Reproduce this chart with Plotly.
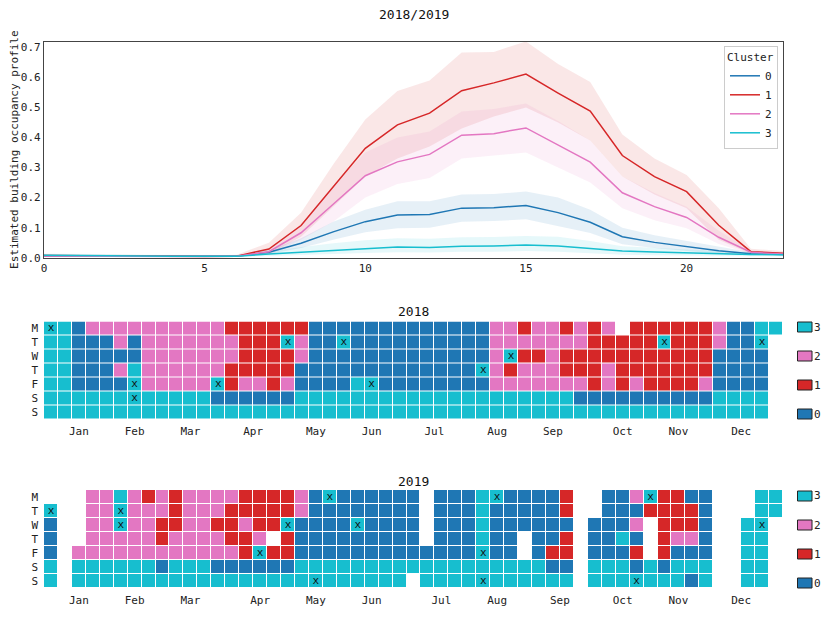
import datetime as dt
import plotly.graph_objects as go

# ---------------- data: hourly occupancy profiles (mean and band) ----------------
hours = list(range(24))

c0_mean = [0.006, 0.006, 0.005, 0.005, 0.004, 0.004, 0.005, 0.018, 0.048, 0.086, 0.120, 0.142,
           0.144, 0.165, 0.166, 0.174, 0.150, 0.118, 0.070, 0.051, 0.037, 0.023, 0.013, 0.011]
c0_low = [0.003, 0.003, 0.003, 0.003, 0.002, 0.002, 0.003, 0.012, 0.032, 0.060, 0.085, 0.098,
          0.100, 0.120, 0.122, 0.128, 0.105, 0.082, 0.045, 0.032, 0.022, 0.013, 0.008, 0.007]
c0_high = [0.010, 0.010, 0.008, 0.008, 0.007, 0.007, 0.008, 0.025, 0.065, 0.120, 0.160, 0.188,
           0.188, 0.210, 0.212, 0.220, 0.200, 0.160, 0.100, 0.075, 0.056, 0.036, 0.018, 0.016]

c1_mean = [0.007, 0.006, 0.005, 0.004, 0.003, 0.004, 0.005, 0.029, 0.107, 0.236, 0.364, 0.442,
           0.481, 0.556, 0.582, 0.611, 0.548, 0.488, 0.340, 0.270, 0.220, 0.108, 0.020, 0.015]
c1_low = [0.003, 0.003, 0.002, 0.002, 0.001, 0.002, 0.002, 0.012, 0.070, 0.170, 0.270, 0.330,
          0.370, 0.430, 0.470, 0.500, 0.450, 0.390, 0.270, 0.210, 0.165, 0.060, 0.012, 0.010]
c1_high = [0.012, 0.011, 0.009, 0.008, 0.006, 0.007, 0.010, 0.050, 0.150, 0.310, 0.460, 0.555,
           0.590, 0.683, 0.685, 0.720, 0.645, 0.585, 0.410, 0.330, 0.275, 0.165, 0.030, 0.022]

c2_mean = [0.006, 0.005, 0.005, 0.004, 0.004, 0.004, 0.005, 0.020, 0.083, 0.178, 0.273, 0.319,
           0.344, 0.408, 0.413, 0.432, 0.374, 0.318, 0.216, 0.170, 0.134, 0.068, 0.018, 0.012]
c2_low = [0.003, 0.003, 0.003, 0.002, 0.002, 0.002, 0.003, 0.010, 0.060, 0.120, 0.200, 0.245,
          0.265, 0.330, 0.340, 0.350, 0.300, 0.250, 0.165, 0.125, 0.098, 0.046, 0.012, 0.008]
c2_high = [0.010, 0.009, 0.008, 0.007, 0.007, 0.007, 0.008, 0.030, 0.110, 0.240, 0.350, 0.400,
           0.420, 0.487, 0.495, 0.513, 0.455, 0.390, 0.270, 0.215, 0.170, 0.090, 0.025, 0.017]

c3_mean = [0.008, 0.008, 0.007, 0.006, 0.005, 0.005, 0.005, 0.012, 0.018, 0.025, 0.031, 0.036,
           0.034, 0.038, 0.039, 0.042, 0.039, 0.031, 0.022, 0.019, 0.016, 0.013, 0.011, 0.010]
c3_low = [0.004, 0.004, 0.004, 0.003, 0.003, 0.003, 0.003, 0.006, 0.008, 0.012, 0.016, 0.018,
          0.017, 0.020, 0.020, 0.022, 0.020, 0.015, 0.010, 0.008, 0.007, 0.006, 0.005, 0.005]
c3_high = [0.013, 0.013, 0.012, 0.010, 0.009, 0.009, 0.009, 0.022, 0.035, 0.048, 0.058, 0.065,
           0.063, 0.068, 0.069, 0.072, 0.070, 0.056, 0.038, 0.032, 0.027, 0.022, 0.018, 0.016]

clusters = ["0", "1", "2", "3"]
means = [c0_mean, c1_mean, c2_mean, c3_mean]
lows = [c0_low, c1_low, c2_low, c3_low]
highs = [c0_high, c1_high, c2_high, c3_high]

# ---------------- data: daily cluster calendar ----------------
# one string per weekday (Mon..Sun), one character per week column (53 columns)
# '0'..'3' = cluster of that day, '.' = no data
cal_2018 = [
    "3302222222222" "1111110000000" "0000002212212" "12.11111120033",
    "3300020222222" "2111320030000" "0000002222222" "1111131112003.",
    "3300000222222" "2111120000000" "0000002311211" "1111111110000.",
    "3300023222222" "1111100000000" "0000032122211" "1211111110000.",
    "3300003222223" "1221200003300" "0000002222222" "1212111120000.",
    "3333333333330" "0000033333333" "3333333333330" "0000000003333.",
    "3333333333333" "3333333333333" "3333333333333" "3333333333333.",
]
cal_2019 = [
    "...2232121222" "2111120300000" "0.0003300001." ".00231100...33",
    "3..2232221222" "1111120000000" "0.0003000001." ".00011110...33",
    "0..2232211221" "1211300003000" "0.0003000000." "0002.1110..33.",
    "0..2222212222" "112.100000000" "0.000300.001." "0030.1220..33.",
    "0.22222222222" "2131100000000" "00000300.011." "0001.1000..33.",
    "3.33333303330" "0000033333333" "333333333300." "333030333..33.",
    "3.33333333333" "3333333333333" ".33333333333." "333333303..33.",
]

# special days marked with an "x"
holidays_2018 = ["2018-01-01", "2018-02-16", "2018-02-17", "2018-03-30", "2018-05-01", "2018-05-29",
                 "2018-06-15", "2018-08-09", "2018-08-22", "2018-11-06", "2018-12-25"]
holidays_2019 = ["2019-01-01", "2019-02-05", "2019-02-06", "2019-04-19", "2019-05-01", "2019-05-19",
                 "2019-05-20", "2019-06-05", "2019-08-09", "2019-08-11", "2019-08-12", "2019-10-27",
                 "2019-10-28", "2019-12-25"]

day_labels = ["M", "T", "W", "T", "F", "S", "S"]
month_labels = ["Jan", "Feb", "Mar", "Apr", "May", "Jun", "Jul", "Aug", "Sep", "Oct", "Nov", "Dec"]
legend_order = [3, 2, 1, 0]

# ---------------- styles ----------------
FONT = "DejaVu Sans Mono"
COL = ["#1f77b4", "#d62728", "#e377c2", "#17becf"]
BAND = ["rgba(31,119,180,0.11)", "rgba(214,39,40,0.11)", "rgba(227,119,194,0.11)",
        "rgba(23,190,207,0.11)"]
OFF = 8                      # page body margin of the html page
W, H = 830 - 2 * OFF, 617 - 2 * OFF


def px_x(p):
    return (p - OFF) / W


def px_y(p):
    return 1 - (p - OFF) / H


def week_col(d):
    jan1 = dt.date(d.year, 1, 1)
    return (d.timetuple().tm_yday - 1 + jan1.weekday()) // 7


def month_ticks(year):
    vals = []
    for m in range(1, 13):
        first = dt.date(year, m, 1)
        last = (dt.date(year + 1, 1, 1) if m == 12 else dt.date(year, m + 1, 1)) - dt.timedelta(days=1)
        vals.append((week_col(first) + week_col(last)) / 2)
    return vals


def to_z(rows):
    z = []
    for r in rows:
        r = r[:53].ljust(53, ".")
        z.append([None if ch == "." else int(ch) for ch in r])
    return z


fig = go.Figure()

# ---------------- line chart ----------------
for i in range(4):
    fig.add_trace(go.Scatter(x=hours, y=lows[i], mode="lines", line=dict(width=0),
                             showlegend=False, hoverinfo="skip", xaxis="x", yaxis="y"))
    fig.add_trace(go.Scatter(x=hours, y=highs[i], mode="lines", line=dict(width=0),
                             fill="tonexty", fillcolor=BAND[i], showlegend=False,
                             hoverinfo="skip", xaxis="x", yaxis="y"))
for i in range(4):
    fig.add_trace(go.Scatter(x=hours, y=means[i], mode="lines", name=clusters[i],
                             line=dict(color=COL[i], width=1.5), xaxis="x", yaxis="y"))

# ---------------- calendars ----------------
cscale = [[0, COL[0]], [0.25, COL[0]], [0.25, COL[1]], [0.5, COL[1]],
          [0.5, COL[2]], [0.75, COL[2]], [0.75, COL[3]], [1, COL[3]]]

for k, (rows, hol) in enumerate([(cal_2018, holidays_2018), (cal_2019, holidays_2019)]):
    xa = "x%d" % (k + 2)
    ya = "y%d" % (k + 2)
    fig.add_trace(go.Heatmap(z=to_z(rows), x=list(range(53)), y=list(range(7)),
                             colorscale=cscale, zmin=-0.5, zmax=3.5, showscale=False,
                             xgap=1, ygap=1, xaxis=xa, yaxis=ya, hoverongaps=False))
    ds = [dt.date.fromisoformat(s) for s in hol]
    fig.add_trace(go.Scatter(x=[week_col(d) for d in ds], y=[d.weekday() for d in ds],
                             mode="text", text=["x"] * len(ds),
                             textfont=dict(family=FONT, size=11, color="#111"),
                             showlegend=False, xaxis=xa, yaxis=ya, hoverinfo="skip"))

xdom = [px_x(44), px_x(783)]
heat_x = dict(domain=xdom, range=[-0.5, 52.5], showgrid=False, zeroline=False, showline=False,
              ticks="", ticklabelstandoff=4, tickfont=dict(family=FONT, size=11, color="#222"),
              automargin=False)
heat_y = dict(range=[6.5, -0.5], tickvals=list(range(7)), ticktext=day_labels, showgrid=False,
              zeroline=False, showline=False, ticks="", automargin=False, ticklabelstandoff=5,
              tickfont=dict(family=FONT, size=11, color="#222"))

fig.update_layout(
    width=W, height=H,
    margin=dict(l=0, r=0, t=0, b=0, autoexpand=False),
    paper_bgcolor="white", plot_bgcolor="white",
    font=dict(family=FONT, size=11, color="#222"),
    xaxis=dict(domain=xdom, range=[0, 23], tickvals=[0, 5, 10, 15, 20], showgrid=False,
               zeroline=False, showline=True, mirror=True, linecolor="#444", linewidth=1.2,
               ticks="", automargin=False, tickfont=dict(family=FONT, size=11, color="#222")),
    yaxis=dict(domain=[px_y(257.7), px_y(41.7)], range=[0, 0.719], dtick=0.1, tickformat=".1f",
               showgrid=False, zeroline=False, showline=True, mirror=True, linecolor="#444",
               linewidth=1.2, ticks="", automargin=False,
               tickfont=dict(family=FONT, size=11, color="#222"),
               title=dict(text="Estimated building occupancy profile",
                          font=dict(family=FONT, size=11, color="#222"), standoff=6)),
    xaxis2=dict(heat_x, anchor="y2", tickvals=month_ticks(2018), ticktext=month_labels),
    yaxis2=dict(heat_y, domain=[px_y(419), px_y(321.5)], anchor="x2"),
    xaxis3=dict(heat_x, anchor="y3", tickvals=month_ticks(2019), ticktext=month_labels),
    yaxis3=dict(heat_y, domain=[px_y(588), px_y(490)], anchor="x3"),
    legend=dict(title=dict(text="Cluster", font=dict(family=FONT, size=11)),
                x=px_x(778), y=px_y(46), xanchor="right", yanchor="top",
                bgcolor="white", bordercolor="#ccc", borderwidth=1,
                font=dict(family=FONT, size=11), traceorder="normal"),
    showlegend=True,
)

# titles
for txt, ypix in [("2018/2019", 15), ("2018", 311), ("2019", 481)]:
    fig.add_annotation(text=txt, x=px_x(413.5), y=px_y(ypix), xref="paper", yref="paper",
                       showarrow=False, font=dict(family=FONT, size=13, color="#111"),
                       xanchor="center", yanchor="middle", borderpad=0)

# calendar colour keys
for top in (327, 496):
    for j, c in enumerate(legend_order):
        yc = top + 29 * j
        fig.add_shape(type="rect", xref="paper", yref="paper",
                      x0=px_x(797.5), x1=px_x(812), y0=px_y(yc - 5), y1=px_y(yc + 5),
                      fillcolor=COL[c], line=dict(color="#222", width=1))
        fig.add_annotation(text=str(c), x=px_x(814), y=px_y(yc), xref="paper", yref="paper",
                           showarrow=False, xanchor="left", yanchor="middle", xshift=-2,
                           font=dict(family=FONT, size=11, color="#222"))

fig.write_html("out.html")
